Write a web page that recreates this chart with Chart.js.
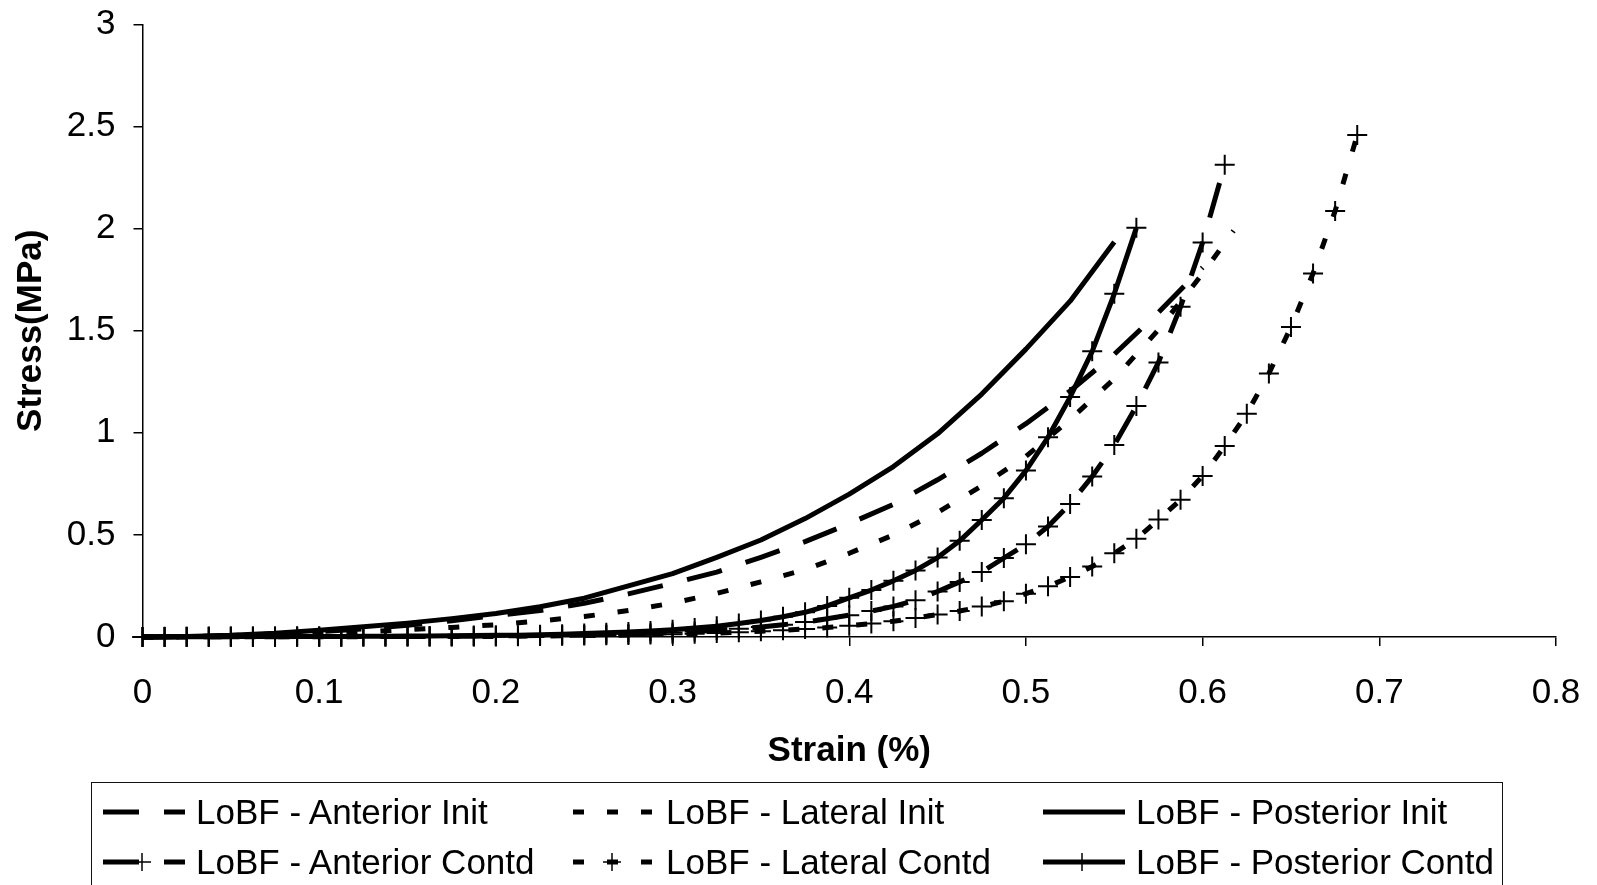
<!DOCTYPE html>
<html>
<head>
<meta charset="utf-8">
<title>Stress - Strain</title>
<script src="https://cdn.jsdelivr.net/npm/chart.js@4.4.1/dist/chart.umd.min.js"></script>
<style>
    html, body { margin: 0; padding: 0; background: #fff; }
    #wrap { position: relative; width: 1597px; height: 885px; overflow: hidden; }
    #legend {
        position: absolute; left: 91px; top: 782px; width: 1412px; height: 130px;
        border: 1.5px solid #111; box-sizing: border-box;
        font-family: "Liberation Sans", Arial, sans-serif; font-size: 35px; color: #000;
    }
    #legend .item { position: absolute; height: 40px; line-height: 40px; white-space: nowrap; }
    #legend svg { position: absolute; left: 0; top: 8px; }
    #legend span { position: absolute; left: 93px; top: 0; }
</style>
</head>
<body>
<div id="wrap">
    <canvas id="stressChart" width="1597" height="885"></canvas>
    <div id="legend"></div>
</div>
<script>
// strain steps of the "Contd" series (one marker per step)
var contdStrain = [0, 0.0125, 0.025, 0.0375, 0.05, 0.0625, 0.075, 0.0875, 0.1, 0.1125,
    0.125, 0.1375, 0.15, 0.1625, 0.175, 0.1875, 0.2, 0.2125, 0.225, 0.2375,
    0.25, 0.2625, 0.275, 0.2875, 0.3, 0.3125, 0.325, 0.3375, 0.35, 0.3625,
    0.375, 0.3875, 0.4, 0.4125, 0.425, 0.4375, 0.45, 0.4625, 0.475, 0.4875,
    0.5, 0.5125, 0.525, 0.5375, 0.55, 0.5625, 0.575, 0.5875, 0.6, 0.6125,
    0.625, 0.6375, 0.65, 0.6625, 0.675, 0.6875];

var anteriorContd = [0, 0, 0.001, 0.001, 0.001, 0.001, 0.001, 0.002, 0.002, 0.002,
    0.002, 0.003, 0.003, 0.003, 0.004, 0.004, 0.005, 0.006, 0.007, 0.008,
    0.010, 0.012, 0.015, 0.018, 0.022, 0.027, 0.033, 0.040, 0.049, 0.060,
    0.073, 0.089, 0.107, 0.127, 0.150, 0.180, 0.223, 0.270, 0.318, 0.387,
    0.454, 0.541, 0.652, 0.786, 0.940, 1.131, 1.345, 1.617, 1.932, 2.313];

var lateralContd = [0, 0, 0, 0.001, 0.001, 0.001, 0.001, 0.001, 0.001, 0.001,
    0.002, 0.002, 0.002, 0.002, 0.003, 0.003, 0.003, 0.004, 0.005, 0.006,
    0.007, 0.008, 0.010, 0.012, 0.014, 0.016, 0.019, 0.023, 0.028, 0.033,
    0.039, 0.046, 0.055, 0.066, 0.077, 0.093, 0.110, 0.127, 0.149, 0.175,
    0.212, 0.248, 0.294, 0.345, 0.410, 0.481, 0.575, 0.672, 0.789, 0.935,
    1.094, 1.291, 1.518, 1.781, 2.087, 2.459];

var posteriorContd = [0, 0.001, 0.001, 0.001, 0.002, 0.002, 0.002, 0.003, 0.003, 0.003,
    0.004, 0.004, 0.005, 0.005, 0.006, 0.007, 0.008, 0.009, 0.011, 0.013,
    0.017, 0.021, 0.025, 0.030, 0.036, 0.044, 0.053, 0.066, 0.081, 0.099,
    0.121, 0.152, 0.192, 0.230, 0.275, 0.326, 0.389, 0.471, 0.573, 0.680,
    0.815, 0.978, 1.175, 1.399, 1.681, 2.004];

// "Init" best-fit lines (no markers)
var anteriorInitStrain = [0, 0.025, 0.05, 0.075, 0.1, 0.125, 0.15, 0.175, 0.2, 0.225,
    0.25, 0.275, 0.3, 0.325, 0.35, 0.375, 0.4, 0.425, 0.45, 0.475,
    0.5, 0.525, 0.55, 0.575, 0.6];
var anteriorInit = [0, 0.002, 0.007, 0.015, 0.026, 0.040, 0.058, 0.080, 0.105, 0.130,
    0.165, 0.211, 0.263, 0.318, 0.390, 0.467, 0.555, 0.650, 0.770, 0.900,
    1.045, 1.205, 1.385, 1.590, 1.810];

var lateralInitStrain = [0, 0.025, 0.05, 0.075, 0.1, 0.125, 0.15, 0.175, 0.2, 0.225,
    0.25, 0.275, 0.3, 0.325, 0.35, 0.375, 0.4, 0.425, 0.45, 0.475,
    0.5, 0.525, 0.55, 0.575, 0.6, 0.6175];
var lateralInit = [0, 0.001, 0.004, 0.009, 0.016, 0.026, 0.036, 0.047, 0.060, 0.079,
    0.100, 0.130, 0.166, 0.214, 0.270, 0.330, 0.410, 0.500, 0.610, 0.740,
    0.885, 1.065, 1.265, 1.505, 1.780, 1.990];

var posteriorInitStrain = [0, 0.025, 0.05, 0.075, 0.1, 0.125, 0.15, 0.175, 0.2, 0.225,
    0.25, 0.275, 0.3, 0.325, 0.35, 0.375, 0.4, 0.425, 0.45, 0.475,
    0.5, 0.525, 0.55];
var posteriorInit = [0, 0.003, 0.008, 0.018, 0.033, 0.050, 0.068, 0.090, 0.115, 0.148,
    0.190, 0.250, 0.310, 0.390, 0.475, 0.580, 0.700, 0.835, 0.995, 1.190,
    1.410, 1.645, 1.935];

var seriesNames = ['LoBF - Anterior Init', 'LoBF - Lateral Init', 'LoBF - Posterior Init',
    'LoBF - Anterior Contd', 'LoBF - Lateral Contd', 'LoBF - Posterior Contd'];

var xTicks = [0, 0.1, 0.2, 0.3, 0.4, 0.5, 0.6, 0.7, 0.8];
var yTicks = [0, 0.5, 1, 1.5, 2, 2.5, 3];

var FONT = '"Liberation Sans", Arial, sans-serif';
var longDash = [36, 25];
var shortDash = [11, 23];

function toPoints(xs, ys) {
    var pts = [];
    for (var i = 0; i < ys.length; i++) {
        pts.push({ x: xs[i], y: ys[i] });
    }
    return pts;
}

function makeSet(label, pts, dash, marker) {
    return {
        label: label,
        data: pts,
        showLine: true,
        borderColor: '#000',
        backgroundColor: '#000',
        borderWidth: 5,
        borderDash: dash,
        borderCapStyle: 'butt',
        borderJoinStyle: 'round',
        tension: 0,
        clip: false,
        pointStyle: marker ? 'cross' : false,
        pointRadius: marker ? 10 : 0,
        pointBorderWidth: 2,
        pointBorderColor: '#000',
        pointHoverRadius: 0
    };
}

var datasets = [
    makeSet(seriesNames[0], toPoints(anteriorInitStrain, anteriorInit), longDash, false),
    makeSet(seriesNames[1], toPoints(lateralInitStrain, lateralInit), shortDash, false),
    makeSet(seriesNames[2], toPoints(posteriorInitStrain, posteriorInit), [], false),
    makeSet(seriesNames[3], toPoints(contdStrain, anteriorContd), longDash, true),
    makeSet(seriesNames[4], toPoints(contdStrain, lateralContd), shortDash, true),
    makeSet(seriesNames[5], toPoints(contdStrain, posteriorContd), [], true)
];

var axisFont = { family: FONT, size: 35 };
var titleFont = { family: FONT, size: 35, weight: 'bold', lineHeight: 1 };

var ctx = document.getElementById('stressChart').getContext('2d');
var chart = new Chart(ctx, {
    type: 'scatter',
    data: { datasets: datasets },
    options: {
        responsive: false,
        animation: false,
        events: [],
        layout: { padding: { left: 0, right: 41, top: 24.5, bottom: 116 } },
        plugins: {
            legend: { display: false },
            tooltip: { enabled: false }
        },
        scales: {
            x: {
                type: 'linear',
                min: 0,
                max: 0.8,
                afterBuildTicks: function (scale) {
                    scale.ticks = xTicks.map(function (v) { return { value: v }; });
                },
                afterFit: function (scale) {
                    scale.height = 132;
                    scale.paddingLeft = 0;
                    scale.paddingRight = 0;
                },
                ticks: { color: '#000', font: axisFont, padding: 26, maxRotation: 0,
                    callback: function (v) { return String(v); } },
                grid: { drawOnChartArea: false, drawTicks: true, tickLength: 9, color: '#000', lineWidth: 1.5 },
                border: { display: true, color: '#000', width: 1.5 },
                title: { display: true, text: 'Strain (%)', color: '#000', font: titleFont, padding: { top: 0, bottom: 0 } }
            },
            y: {
                type: 'linear',
                min: 0,
                max: 3,
                afterBuildTicks: function (scale) {
                    scale.ticks = yTicks.map(function (v) { return { value: v }; });
                },
                afterFit: function (scale) {
                    scale.width = 142.5;
                    scale.paddingTop = 0;
                    scale.paddingBottom = 0;
                },
                ticks: { color: '#000', font: axisFont, padding: 18,
                    callback: function (v) { return String(v); } },
                grid: { drawOnChartArea: false, drawTicks: true, tickLength: 9, color: '#000', lineWidth: 1.5 },
                border: { display: true, color: '#000', width: 1.5 },
                title: { display: true, text: 'Stress(MPa)', color: '#000', font: titleFont, padding: { top: 14, bottom: 0 } }
            }
        }
    }
});

// HTML legend, 3 columns x 2 rows, built from the datasets
var legendBox = document.getElementById('legend');
var colLeft = [11, 481, 951];
var rowTop = [9, 59];
var html = [];
chart.data.datasets.forEach(function (ds, i) {
    var col = i % 3, row = Math.floor(i / 3);
    var dash = ds.borderDash.length ? ' stroke-dasharray="' + ds.borderDash.join(' ') + '"' : '';
    var svg = '<svg width="84" height="24" viewBox="0 0 84 24">' +
        '<line x1="0" y1="12" x2="82" y2="12" stroke="#000" stroke-width="5"' + dash + '/>';
    if (ds.pointRadius > 0) {
        svg += '<line x1="30" y1="12" x2="48" y2="12" stroke="#000" stroke-width="1.5"/>' +
            '<line x1="39" y1="3" x2="39" y2="21" stroke="#000" stroke-width="1.5"/>';
    }
    svg += '</svg>';
    html.push('<div class="item" style="left:' + colLeft[col] + 'px;top:' + rowTop[row] + 'px">' +
        svg + '<span>' + ds.label + '</span></div>');
});
legendBox.innerHTML = html.join('');
</script>
</body>
</html>
